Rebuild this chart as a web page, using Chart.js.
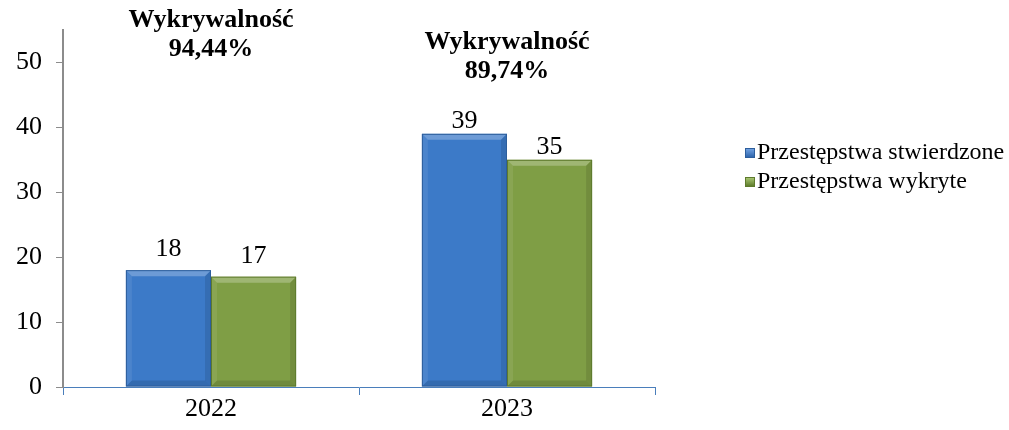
<!DOCTYPE html>
<html>
<head>
<meta charset="utf-8">
<script src="https://cdn.jsdelivr.net/npm/chart.js@4.4.0/dist/chart.umd.min.js"></script>
<style>
  html, body { margin: 0; padding: 0; background: #fff; }
  #wrap { position: relative; width: 1009px; height: 430px; }
  #legend-box {
    position: absolute; left: 745px; top: 137px;
    font-family: 'Liberation Serif', 'Times New Roman', serif; font-size: 24px; color: #000;
  }
  .legend-item { height: 29px; line-height: 29px; white-space: nowrap; }
  .legend-item span {
    display: inline-block; width: 10px; height: 10px; margin-right: 2px; vertical-align: 1px;
  }
</style>
</head>
<body>
<div id="wrap">
  <canvas id="crimeChart" width="1009" height="430"></canvas>
  <div id="legend-box"></div>
</div>
<script>
// Data
const YEARS = ['2022', '2023'];
const SERIES_LABELS = ['Przestępstwa stwierdzone', 'Przestępstwa wykryte'];
const STWIERDZONE = [18, 39];
const WYKRYTE = [17, 35];
const RATES = ['94,44%', '89,74%'];
const RATE_TITLE = 'Wykrywalność';
const Y_TICKS = [0, 10, 20, 30, 40, 50];

const FONT = "'Liberation Serif', 'Times New Roman', serif";
const FILL = ['#3c7ac8', '#7f9e45'];
const EDGE = ['#2d5e9c', '#5e7a2d'];
const LEGEND_FILL = ['linear-gradient(#6fa0e0, #2f66ad)', 'linear-gradient(#a6c470, #5f7d2c)'];

// bevel look on the bars
const bevelPlugin = {
  id: 'bevel',
  afterDatasetsDraw(chart) {
    const ctx = chart.ctx;
    chart.data.datasets.forEach((ds, di) => {
      chart.getDatasetMeta(di).data.forEach(bar => {
        const l = bar.x - bar.width / 2, r = bar.x + bar.width / 2;
        const t = bar.y, b = bar.base, k = 6;
        const poly = (pts, color) => {
          ctx.beginPath();
          ctx.moveTo(pts[0][0], pts[0][1]);
          pts.slice(1).forEach(p => ctx.lineTo(p[0], p[1]));
          ctx.closePath();
          ctx.fillStyle = color;
          ctx.fill();
        };
        ctx.save();
        poly([[l, t], [r, t], [r - k, t + k], [l + k, t + k]], 'rgba(255,255,255,0.25)');
        poly([[l, t], [l + k, t + k], [l + k, b - k], [l, b]], 'rgba(255,255,255,0.08)');
        poly([[r, t], [r, b], [r - k, b - k], [r - k, t + k]], 'rgba(0,0,0,0.1)');
        poly([[l, b], [l + k, b - k], [r - k, b - k], [r, b]], 'rgba(0,0,0,0.12)');
        ctx.strokeStyle = EDGE[di];
        ctx.lineWidth = 1;
        ctx.strokeRect(l + 0.5, t + 0.5, bar.width - 1, b - t - 1);
        ctx.restore();
      });
    });
  }
};

// value labels and detection rate captions
const LABEL_GAP = [14, 6];
const labelPlugin = {
  id: 'labels',
  afterDraw(chart) {
    const ctx = chart.ctx;
    ctx.save();
    ctx.fillStyle = '#000';
    ctx.textAlign = 'center';
    ctx.textBaseline = 'alphabetic';
    ctx.font = '26px ' + FONT;
    chart.data.datasets.forEach((ds, di) => {
      chart.getDatasetMeta(di).data.forEach((bar, i) => {
        ctx.fillText(ds.data[i], bar.x, bar.y - LABEL_GAP[i]);
      });
    });
    const xs = chart.scales.x;
    const tops = [27, 49];
    ctx.font = 'bold 26px ' + FONT;
    RATES.forEach((rate, i) => {
      const cx = xs.getPixelForValue(i);
      ctx.fillText(RATE_TITLE, cx, tops[i]);
      ctx.fillText(rate, cx, tops[i] + 29);
    });
    ctx.restore();
  }
};

const ctx = document.getElementById('crimeChart').getContext('2d');
new Chart(ctx, {
  type: 'bar',
  data: {
    labels: YEARS,
    datasets: [
      { label: SERIES_LABELS[0], data: STWIERDZONE, backgroundColor: FILL[0] },
      { label: SERIES_LABELS[1], data: WYKRYTE, backgroundColor: FILL[1] }
    ]
  },
  options: {
    responsive: false,
    animation: false,
    layout: { padding: { left: 2, top: 30, right: 354, bottom: 7 } },
    datasets: { bar: { categoryPercentage: 0.575, barPercentage: 1 } },
    plugins: { legend: { display: false }, tooltip: { enabled: false } },
    scales: {
      x: {
        offset: true,
        grid: { offset: true, drawOnChartArea: false, color: '#4a7ebb', tickLength: 8 },
        border: { color: '#4a7ebb', width: 1 },
        ticks: { color: '#000', font: { family: FONT, size: 26, lineHeight: 1 }, padding: 1 }
      },
      y: {
        min: 0,
        max: 55,
        afterBuildTicks: axis => { axis.ticks = Y_TICKS.map(v => ({ value: v })); },
        grid: { drawOnChartArea: false, color: '#8c8c8c', tickLength: 7 },
        border: { color: '#8c8c8c', width: 2 },
        ticks: { color: '#000', font: { family: FONT, size: 26 }, padding: 14 }
      }
    }
  },
  plugins: [bevelPlugin, labelPlugin]
});

// Custom legend
const legendBox = document.getElementById('legend-box');
legendBox.innerHTML = SERIES_LABELS.map((name, i) => `
  <div class="legend-item"><span style="background:${LEGEND_FILL[i]}; border:1px solid ${EDGE[i]}; box-sizing:border-box;"></span>${name}</div>
`).join('');
</script>
</body>
</html>
